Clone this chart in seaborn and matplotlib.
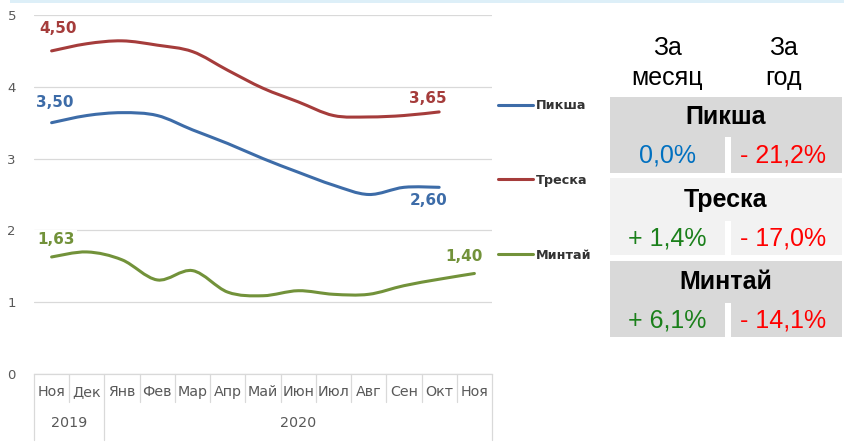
import numpy as np
import pandas as pd
import matplotlib
matplotlib.use('Agg')
import matplotlib.pyplot as plt
import seaborn as sns
from matplotlib.path import Path
from matplotlib.patches import PathPatch, Rectangle
from matplotlib.lines import Line2D

# ---------------- data ----------------
months = ['Ноя', 'Дек', 'Янв', 'Фев', 'Мар', 'Апр', 'Май', 'Июн', 'Июл', 'Авг', 'Сен', 'Окт', 'Ноя']
years = ['2019', '2020']
year_first_idx = [0, 2]
species = ['Пикша', 'Треска', 'Минтай']
piksha = [3.50, 3.60, 3.64, 3.60, 3.40, 3.21, 3.00, 2.81, 2.63, 2.50, 2.60, 2.60]
treska = [4.50, 4.60, 4.64, 4.58, 4.49, 4.23, 3.98, 3.79, 3.60, 3.58, 3.60, 3.65]
mintai = [1.63, 1.70, 1.59, 1.31, 1.44, 1.14, 1.09, 1.16, 1.11, 1.11, 1.23, 1.32, 1.40]
colors = ['#3D6CA8', '#A53C3B', '#72923A']
table_month = ['0,0%', '+ 1,4%', '+ 6,1%']
table_year = ['- 21,2%', '- 17,0%', '- 14,1%']
month_colors = ['#0070C0', '#1B801B', '#1B801B']
year_colors = ['#FF0000', '#FF0000', '#FF0000']
group_bg = ['#D9D9D9', '#F2F2F2', '#D9D9D9']

series = [piksha, treska, mintai]
rows = []
for name, vals in zip(species, series):
    for i, v in enumerate(vals):
        rows.append({'idx': i, 'value': v, 'species': name})
df = pd.DataFrame(rows)

# ---------------- figure ----------------
sns.set_style('white')
plt.rcParams['font.family'] = ['DejaVu Sans']

W, H = 845, 448
fig = plt.figure(figsize=(W / 100, H / 100), dpi=100)
fx = lambda x: x / W
fy = lambda y: 1 - y / H

ax = fig.add_axes([fx(34), fy(374), (492 - 34) / W, (374 - 15) / H])

sns.lineplot(data=df, x='idx', y='value', hue='species', hue_order=species,
             palette=colors, ax=ax, legend=False, linewidth=2.2)


def smooth_path(pts):
    n = len(pts)
    verts = [pts[0]]
    codes = [Path.MOVETO]
    for i in range(n - 1):
        p0 = pts[i - 1] if i > 0 else pts[i]
        p1 = pts[i]
        p2 = pts[i + 1]
        p3 = pts[i + 2] if i + 2 < n else pts[i + 1]
        verts += [p1 + (p2 - p0) / 6, p2 - (p3 - p1) / 6, p2]
        codes += [Path.CURVE4] * 3
    return Path(verts, codes)


# Excel-like smoothed lines built from the seaborn lines
for line in list(ax.lines):
    pts = line.get_xydata()
    if len(pts) < 2:
        continue
    patch = PathPatch(smooth_path(pts), facecolor='none', edgecolor=line.get_color(),
                      lw=2.2, capstyle='round', joinstyle='round', transform=ax.transData, zorder=3)
    ax.add_patch(patch)
    line.set_visible(False)

ax.set_xlim(-0.5, len(months) - 0.5)
ax.set_ylim(0, 5)
ax.set_xlabel('')
ax.set_ylabel('')
ax.set_xticks([])
ax.set_yticks(range(6))
ax.set_yticklabels([str(v) for v in range(6)], color='#595959', fontsize=9.5)
ax.tick_params(axis='y', length=0, pad=13)
ax.grid(axis='y', color='#D9D9D9', lw=0.9)
ax.grid(axis='x', visible=False)
for s in ['top', 'left', 'right']:
    ax.spines[s].set_visible(False)
ax.spines['bottom'].set_color('#D9D9D9')
ax.spines['bottom'].set_linewidth(0.9)

# category axis boxes
xt = ax.get_xaxis_transform()
month_bottom = (374 - 402) / 359
year_bottom = (374 - 440) / 359
for k in range(len(months) + 1):
    b = k - 0.5
    bottom = year_bottom if (k in year_first_idx or k == len(months)) else month_bottom
    ax.plot([b, b], [0, bottom], transform=xt, color='#D9D9D9', lw=0.9, clip_on=False)
for i, m in enumerate(months):
    ax.text(i, (374 - 392) / 359, m, transform=xt, ha='center', va='center',
            fontsize=10.3, color='#595959')
year_ends = year_first_idx[1:] + [len(months)]
for y, a, b in zip(years, year_first_idx, year_ends):
    ax.text((a + b - 1) / 2, (374 - 423) / 359, y, transform=xt, ha='center', va='center',
            fontsize=10.3, color='#595959')

# data labels
label_specs = [
    (piksha, 0, (3, 20)), (piksha, len(piksha) - 1, (-11, -13)),
    (treska, 0, (6, 22)), (treska, len(treska) - 1, (-11, 13)),
    (mintai, 0, (4, 17)), (mintai, len(mintai) - 1, (-10, 17)),
]
ser_color = {id(piksha): colors[0], id(treska): colors[1], id(mintai): colors[2]}
for vals, i, (dx, dy) in label_specs:
    ax.annotate(f'{vals[i]:.2f}'.replace('.', ','), xy=(i, vals[i]), xytext=(dx, dy),
                textcoords='offset pixels', ha='center', va='center', fontsize=11,
                fontweight='bold', color=ser_color[id(vals)],
                bbox=dict(fc='white', ec='none', pad=2), zorder=4)

# legend
handles = [Line2D([], [], color=c, lw=2.2) for c in colors]
leg = fig.legend(handles, species, loc='upper left', bbox_to_anchor=(fx(498), fy(99)),
                 bbox_transform=fig.transFigure, frameon=False,
                 prop={'weight': 'bold', 'size': 9.2}, labelspacing=4.85, handlelength=2.7,
                 handletextpad=0.3, borderpad=0, borderaxespad=0)
for t in leg.get_texts():
    t.set_color('#333333')

# top light border
fig.patches.append(Rectangle((fx(10), fy(3)), 1 - fx(10), 3 / H, transform=fig.transFigure,
                             facecolor='#DDEFF8', edgecolor='none'))

# table
tfont = ['Liberation Sans', 'DejaVu Sans']
cx_l, cx_r = 667.5, 786.5
for cx, lines in [(cx_l, ['За', 'месяц']), (cx_r - 3, ['За', 'год'])]:
    fig.text(fx(cx), fy(48), lines[0], ha='center', va='center', fontsize=18, family=tfont, color='black')
    fig.text(fx(cx), fy(78), lines[1], ha='center', va='center', fontsize=18, family=tfont, color='black')

groups = [(97, 137, 173), (178, 221, 255), (261, 303, 337)]
for g, (top, mid, bot) in enumerate(groups):
    bg = group_bg[g]
    fig.patches.append(Rectangle((fx(610), fy(mid)), (842 - 610) / W, (mid - top) / H,
                                 transform=fig.transFigure, facecolor=bg, edgecolor='none'))
    fig.patches.append(Rectangle((fx(610), fy(bot)), (725 - 610) / W, (bot - mid + 0.5) / H,
                                 transform=fig.transFigure, facecolor=bg, edgecolor='none'))
    fig.patches.append(Rectangle((fx(731), fy(bot)), (842 - 731) / W, (bot - mid + 0.5) / H,
                                 transform=fig.transFigure, facecolor=bg, edgecolor='none'))
    fig.text(fx(726), fy((top + mid) / 2), species[g], ha='center', va='center', fontsize=18,
             fontweight='bold', family=tfont, color='black')
    fig.text(fx(cx_l), fy((mid + bot) / 2), table_month[g], ha='center', va='center', fontsize=18,
             family=tfont, color=month_colors[g])
    fig.text(fx(cx_r - 3), fy((mid + bot) / 2), table_year[g], ha='center', va='center', fontsize=18,
             family=tfont, color=year_colors[g])

fig.savefig('out.png', dpi=100)
